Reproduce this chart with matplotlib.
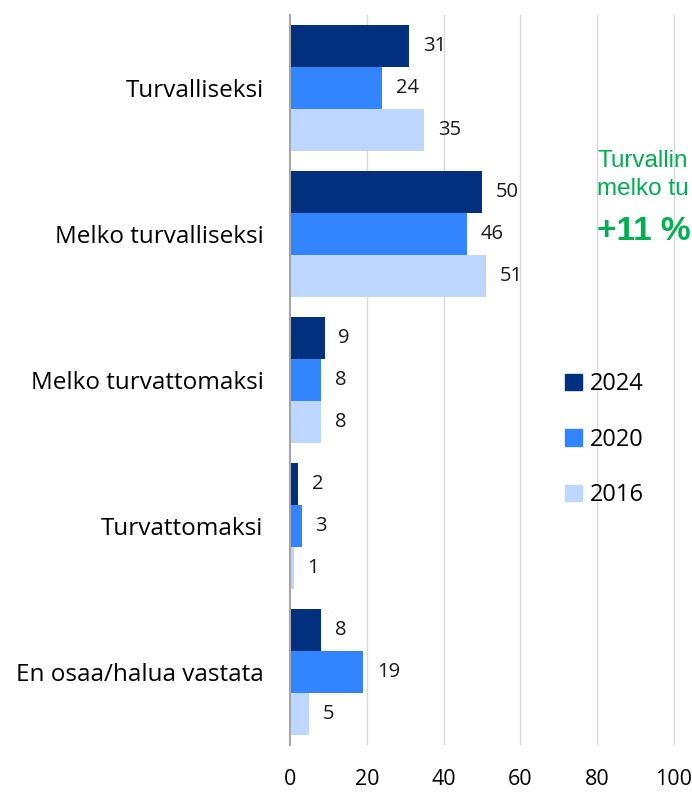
import matplotlib
matplotlib.use("Agg")
import matplotlib.pyplot as plt
import numpy as np
from matplotlib.patches import Patch

categories = ["Turvalliseksi", "Melko turvalliseksi", "Melko turvattomaksi",
              "Turvattomaksi", "En osaa/halua vastata"]
series_names = ["2024", "2020", "2016"]
v2024 = [31, 50, 9, 2, 8]
v2020 = [24, 46, 8, 3, 19]
v2016 = [35, 51, 8, 1, 5]
xticks = [0, 20, 40, 60, 80, 100]
colors = ["#00307E", "#3385FF", "#BDD7FF"]

plt.rcParams['font.family'] = ['Open Sans', 'DejaVu Sans']

W, H = 692, 792
fig = plt.figure(figsize=(W / 100, H / 100), dpi=100)
ax_left, ax_right = 290, 692
ax_top, ax_bottom = 15, 745
ax = fig.add_axes([ax_left / W, 1 - ax_bottom / H, (ax_right - ax_left) / W, (ax_bottom - ax_top) / H])

px_per_unit = (674 - 290) / 100.0
ax.set_xlim(0, (ax_right - ax_left) / px_per_unit)
n = len(categories)
ax.set_ylim(n - 0.5, -0.5)

bh = 0.287
y = np.arange(n)
for i, (vals, c) in enumerate(zip([v2024, v2020, v2016], colors)):
    yy = y + (i - 1) * bh
    ax.barh(yy, vals, height=bh, color=c, zorder=3)
    for yv, v in zip(yy, vals):
        ax.text(v + 3.6, yv, str(v), va="center", ha="left", fontsize=14.5, color="#1a1a1a")

ax.set_yticks(y)
ax.set_yticklabels(categories, fontsize=17.5)
ax.set_xticks(xticks)
ax.set_xticklabels([str(t) for t in xticks], fontsize=15.5)
ax.tick_params(axis="y", length=0, pad=19)
ax.tick_params(axis="x", length=0, pad=17)
for s in ["top", "right", "bottom"]:
    ax.spines[s].set_visible(False)
ax.spines["left"].set_color("#A6A6A6")
ax.spines["left"].set_linewidth(1.5)
ax.spines["left"].set_zorder(4)
for t in xticks[1:]:
    ax.axvline(t, color="#D9D9D9", lw=1, zorder=0)

handles = [Patch(color=c, label=s) for c, s in zip(colors, series_names)]
fig.legend(handles=handles, loc="upper left", bbox_to_anchor=(558 / W, 1 - 365 / H),
           frameon=False, fontsize=17, labelspacing=1.34, handlelength=0.7,
           handleheight=0.7, handletextpad=0.35, borderaxespad=0, borderpad=0.3)

green = "#00B050"
fig.text(597 / W, 1 - 161 / H, "Turvallin", color=green, fontsize=17.5,
         family="Liberation Sans", va="center", ha="left")
fig.text(597 / W, 1 - 189 / H, "melko tu", color=green, fontsize=17.5,
         family="Liberation Sans", va="center", ha="left")
fig.text(597 / W, 1 - 232 / H, "+11 %", color=green, fontsize=24, fontweight="bold",
         family="Liberation Sans", va="center", ha="left")

fig.savefig("out.png", dpi=100, facecolor="white")
